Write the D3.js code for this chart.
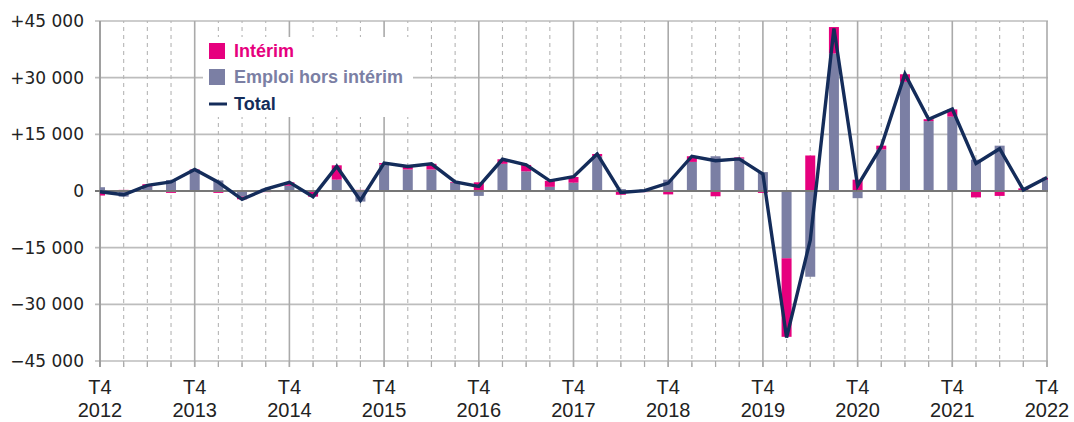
<!DOCTYPE html>
<html>
<head>
<meta charset="utf-8">
<script src="https://cdn.jsdelivr.net/npm/d3@7"></script>
<style>
  html, body { margin: 0; padding: 0; background: #fff; }
  svg { display: block; }
  .ylab { font-family: "DejaVu Sans", sans-serif; font-size: 17px; fill: #222; }
  .xlab { font-family: "Liberation Sans", Arial, sans-serif; font-size: 20px; fill: #222; }
  .leg { font-family: "Liberation Sans", Arial, sans-serif; font-size: 18px; font-weight: bold; }
</style>
</head>
<body>
<svg id="chart" width="1074" height="422"></svg>
<script>
const quarters = [
  "T4 2012",
  "T1 2013", "T2 2013", "T3 2013", "T4 2013",
  "T1 2014", "T2 2014", "T3 2014", "T4 2014",
  "T1 2015", "T2 2015", "T3 2015", "T4 2015",
  "T1 2016", "T2 2016", "T3 2016", "T4 2016",
  "T1 2017", "T2 2017", "T3 2017", "T4 2017",
  "T1 2018", "T2 2018", "T3 2018", "T4 2018",
  "T1 2019", "T2 2019", "T3 2019", "T4 2019",
  "T1 2020", "T2 2020", "T3 2020", "T4 2020",
  "T1 2021", "T2 2021", "T3 2021", "T4 2021",
  "T1 2022", "T2 2022", "T3 2022", "T4 2022"
];

const emploi = [
  1000, -1500, 1200, 2900, 5500, 2800, -1500, 600, 1400, -200,
  3000, -2800, 7000, 5700, 5700, 2200, -1300, 7200, 5200, 1100,
  2200, 9200, 500, 400, 3000, 7700, 9200, 8600, 5000, -17800,
  -22700, 36400, -1900, 11000, 28900, 18500, 19700, 8300, 12000, -200,
  3000
];

const interim = [
  -1200, 300, 600, -500, 200, -500, -700, -300, 900, -1300,
  3800, 300, 400, 800, 1500, 200, 2300, 1200, 1700, 1600,
  1500, 600, -1000, -300, -900, 1500, -1400, 300, -500, -20800,
  9400, 7000, 3000, 1000, 2000, 500, 1900, -1700, -1300, 700,
  500
];

const total = [
  -200, -1000, 1500, 2400, 5700, 2300, -2200, 500, 2300, -1500,
  6500, -2500, 7400, 6500, 7200, 2400, 1200, 8400, 6900, 2700,
  3800, 9800, -400, 100, 2100, 9200, 8000, 8500, 4500, -38800,
  -13000, 43000, 1400, 11800, 31000, 19000, 21700, 7300, 11200, 300,
  3600
];

const yTicks = [-45000, -30000, -15000, 0, 15000, 30000, 45000];

const colors = { interim: "#e6007e", emploi: "#7b7fa4", total: "#142c5a" };

const svg = d3.select("#chart");
const plotLeft = 100, plotRight = 1047, plotTop = 21, plotBottom = 361;

const x = d3.scalePoint().domain(quarters).range([plotLeft, plotRight]);
const y = d3.scaleLinear().domain([-45000, 45000]).range([plotBottom, plotTop]);

const locale = d3.formatLocale({ decimal: ",", thousands: " ", grouping: [3], currency: ["", ""] });
const fmt = locale.format("+,");
const tickText = (v) => (v === 0 ? "0" : fmt(v));

const rows = quarters.map((q, i) => ({ q, emploi: emploi[i], interim: interim[i], total: total[i] }));

// grid
const grid = svg.append("g");
grid.selectAll("line.h")
  .data(yTicks.filter((v) => v !== 0))
  .join("line")
  .attr("x1", plotLeft - 5).attr("x2", plotRight + 1)
  .attr("y1", (v) => y(v)).attr("y2", (v) => y(v))
  .attr("stroke", "#bdbdbd").attr("stroke-width", 1.6);

grid.selectAll("line.v")
  .data(quarters)
  .join("line")
  .attr("x1", (q) => x(q)).attr("x2", (q) => x(q))
  .attr("y1", plotTop).attr("y2", plotBottom + 6)
  .attr("stroke", (q) => (q.startsWith("T4") ? "#aaaaaa" : "#b5b5b5"))
  .attr("stroke-width", (q) => (q.startsWith("T4") ? 1.6 : 1.1))
  .attr("stroke-dasharray", (q) => (q.startsWith("T4") ? null : "4,4"))
  .attr("stroke-dashoffset", 2);

// bottom ticks below the plot
grid.selectAll("line.bt")
  .data(quarters)
  .join("line")
  .attr("x1", (q) => x(q)).attr("x2", (q) => x(q))
  .attr("y1", plotBottom).attr("y2", plotBottom + 6)
  .attr("stroke", "#aaaaaa").attr("stroke-width", 1.2);

// left axis line
svg.append("line")
  .attr("x1", plotLeft).attr("x2", plotLeft).attr("y1", plotTop).attr("y2", plotBottom + 6)
  .attr("stroke", "#9a9a9a").attr("stroke-width", 1.6);

// bars
svg.append("clipPath").attr("id", "plot")
  .append("rect").attr("x", plotLeft).attr("y", 0).attr("width", plotRight - plotLeft + 1).attr("height", 422);

const stack = d3.stack().keys(["emploi", "interim"]).offset(d3.stackOffsetDiverging);
const layers = stack(rows);
const barW = 10;

svg.append("g").attr("clip-path", "url(#plot)")
  .selectAll("g")
  .data(layers)
  .join("g")
  .attr("fill", (d) => colors[d.key])
  .selectAll("rect")
  .data((d) => d)
  .join("rect")
  .attr("x", (d) => x(d.data.q) - barW / 2)
  .attr("width", barW)
  .attr("y", (d) => y(Math.max(d[0], d[1])))
  .attr("height", (d) => Math.abs(y(d[0]) - y(d[1])));

// zero line
svg.append("line")
  .attr("x1", plotLeft - 5).attr("x2", plotRight + 1).attr("y1", y(0)).attr("y2", y(0))
  .attr("stroke", "#777").attr("stroke-width", 2);

// y labels
svg.append("g").selectAll("text")
  .data(yTicks)
  .join("text")
  .attr("class", "ylab")
  .attr("x", 84)
  .attr("y", (v) => y(v))
  .attr("dy", "0.36em")
  .attr("text-anchor", "end")
  .text(tickText);

// x labels
const xl = svg.append("g").selectAll("text")
  .data(quarters.filter((q) => q.startsWith("T4")))
  .join("text")
  .attr("class", "xlab")
  .attr("text-anchor", "middle");
xl.append("tspan").attr("x", (q) => x(q)).attr("y", 394).text((q) => q.split(" ")[0]);
xl.append("tspan").attr("x", (q) => x(q)).attr("y", 417).text((q) => q.split(" ")[1]);

// total line
svg.append("path")
  .datum(rows)
  .attr("fill", "none")
  .attr("stroke", colors.total)
  .attr("stroke-width", 3.4)
  .attr("d", d3.line().x((d) => x(d.q)).y((d) => y(d.total)));

// legend
const leg = svg.append("g");
leg.append("rect").attr("x", 203).attr("y", 37).attr("width", 210).attr("height", 80).attr("fill", "#fff");
leg.append("rect").attr("x", 209).attr("y", 43).attr("width", 16).attr("height", 16).attr("fill", colors.interim);
leg.append("rect").attr("x", 209).attr("y", 69).attr("width", 16).attr("height", 16).attr("fill", colors.emploi);
leg.append("line").attr("x1", 209).attr("x2", 227).attr("y1", 104).attr("y2", 104)
  .attr("stroke", colors.total).attr("stroke-width", 3);
leg.append("text").attr("class", "leg").attr("x", 234).attr("y", 57).attr("fill", colors.interim).text("Intérim");
leg.append("text").attr("class", "leg").attr("x", 234).attr("y", 83).attr("fill", colors.emploi).text("Emploi hors intérim");
leg.append("text").attr("class", "leg").attr("x", 234).attr("y", 110).attr("fill", colors.total).text("Total");
</script>
</body>
</html>
